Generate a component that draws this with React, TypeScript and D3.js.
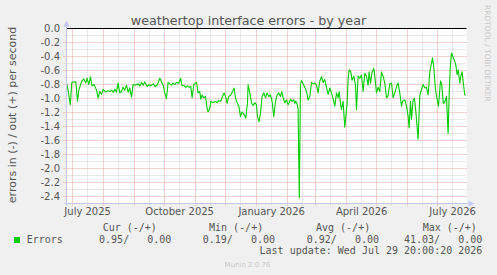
import React, { useEffect, useRef } from 'react';
import * as d3 from 'd3';

const title = 'weathertop interface errors - by year';
const yLabel = 'errors in (-) / out (+) per second';
const credit = 'RRDTOOL / TOBI OETIKER';
const footer = 'Munin 2.0.76';
const lastUpdate = 'Last update: Wed Jul 29 20:00:20 2026';

const endTime = new Date(2026, 6, 29, 20, 0, 20);
const startTime = new Date(endTime.getTime() - 400 * 864e5);

// days since startTime
const dayOffsets = [
  0.3, 1.8, 3.8, 5.3, 9.3, 11, 12.3, 15, 17.3, 19.3,
  20.6, 22.3, 24, 25.6, 27.6, 30, 31.6, 33.3, 35, 36.6,
  39.3, 41, 43.3, 45, 46.6, 48.3, 50, 51.6, 53.3, 55,
  56.6, 58.3, 60, 61.6, 63.3, 65, 66.6, 69.3, 71.6, 73.3,
  75, 76.6, 78.3, 80.6, 82.6, 84.3, 86.6, 89, 91, 93.3,
  95, 96.6, 98.3, 100, 101.6, 103.3, 105, 106.6, 108.3, 110,
  112.3, 114, 115.6, 117.3, 119.3, 121, 122.6, 124.3, 125.6, 127.3,
  130, 131.6, 133.3, 134.3, 135.6, 137.3, 139, 140.6, 141.6, 143.3,
  144.3, 146.6, 149, 150.6, 152.3, 154.3, 156, 157.6, 159, 160.6,
  162.3, 164.3, 166, 167.6, 169, 170.6, 172.3, 174, 175.6, 177.6,
  179.3, 181, 181.6, 183.3, 185, 186.6, 188.3, 190, 191, 192.6,
  194, 195.6, 197.3, 199, 200.6, 202.3, 204, 205.6, 207.3, 209,
  210.6, 212.3, 214, 215.3, 216.6, 218.3, 220, 221.6, 222.6, 224,
  225.6, 227.3, 228.3, 229.3, 230.6, 231.6, 232.8, 234, 235, 236.6,
  238.3, 240, 241.6, 243.3, 245, 246.6, 248.3, 250, 251.6, 253.3,
  255, 256.6, 258.3, 260, 261.6, 263.3, 265, 267.3, 268.3, 270,
  271.6, 272.6, 274, 275, 276.6, 278.3, 280.6, 281.6, 282.6, 284.3,
  285.6, 287.3, 289, 290, 291.6, 293.3, 295, 296.6, 298.3, 300,
  301.6, 302.6, 304, 305.6, 307.3, 308.3, 310, 311.6, 313.3, 315,
  316.6, 318.3, 320, 321.6, 323.3, 325, 326.6, 328.3, 330, 331.6,
  333.3, 335, 336, 338.3, 340, 341.6, 342.6, 344, 345, 346.6,
  348, 349.3, 351.6, 353.3, 355, 356.6, 358.3, 360, 361.6, 363.3,
  366, 367.3, 368.8, 370, 372, 374, 375.3, 376.8, 378.3, 380,
  381.6, 382.8, 383.8, 385, 386.3, 387.8, 389.3, 390.6, 391.8, 393.3,
  394.3, 395.6, 396.8, 398.3, 399.3,
];

// errors in (drawn negative)
const errorsIn = [
  -0.79, -0.90, -1.09, -0.77, -0.76, -1.04, -0.88, -0.76, -0.72, -0.78,
  -0.71, -0.80, -0.69, -0.82, -0.80, -0.88, -0.99, -0.90, -0.94, -0.87,
  -0.91, -0.89, -0.90, -0.88, -0.91, -0.87, -0.91, -0.78, -0.92, -0.90,
  -0.84, -0.88, -0.81, -0.91, -0.85, -0.98, -0.80, -0.81, -0.79, -0.82,
  -0.77, -0.81, -0.76, -0.83, -0.80, -0.82, -0.79, -0.83, -0.80, -0.71,
  -0.76, -0.81, -0.92, -1.00, -0.77, -0.79, -0.81, -0.78, -0.80, -0.77,
  -0.78, -0.71, -0.82, -0.81, -0.84, -0.82, -0.84, -0.83, -0.99, -0.80,
  -0.77, -0.92, -0.90, -1.01, -0.95, -0.99, -0.97, -1.14, -1.19, -1.14,
  -1.04, -1.06, -1.04, -1.06, -1.03, -1.04, -0.97, -0.92, -0.97, -1.07,
  -0.97, -0.95, -0.90, -0.85, -0.99, -1.06, -1.11, -1.26, -1.19, -1.23,
  -1.28, -1.06, -0.80, -0.92, -1.06, -1.10, -1.06, -1.09, -1.26, -1.33,
  -1.21, -0.97, -0.92, -0.99, -0.92, -0.97, -0.95, -1.04, -1.26, -1.04,
  -0.95, -0.92, -0.97, -0.90, -0.99, -1.06, -1.02, -1.09, -1.06, -1.01,
  -1.04, -1.02, -1.07, -1.04, -1.08, -1.16, -2.42, -0.80, -0.74, -0.79,
  -0.84, -0.90, -1.02, -0.97, -0.77, -0.79, -0.78, -0.81, -0.92, -0.75,
  -0.69, -0.77, -0.73, -0.84, -0.94, -0.85, -0.92, -1.04, -1.11, -0.92,
  -0.99, -0.90, -1.07, -1.16, -1.04, -1.41, -1.07, -0.73, -0.59, -0.62,
  -0.74, -0.68, -0.81, -1.16, -0.68, -0.71, -0.66, -0.90, -0.64, -0.68,
  -0.81, -0.62, -0.78, -0.62, -0.57, -0.68, -0.92, -0.84, -0.90, -0.62,
  -0.68, -0.78, -0.99, -0.96, -0.79, -0.78, -0.99, -0.92, -0.83, -0.78,
  -0.92, -1.11, -1.04, -1.02, -1.11, -1.25, -1.42, -1.04, -1.30, -1.02,
  -1.00, -1.18, -1.58, -0.96, -0.87, -0.80, -0.85, -0.84, -0.95, -0.62,
  -0.42, -0.55, -0.85, -0.97, -1.11, -0.75, -0.80, -1.07, -1.05, -0.97,
  -1.50, -0.88, -0.55, -0.35, -0.40, -0.45, -0.52, -0.66, -0.59, -0.78,
  -0.68, -0.62, -0.78, -0.95, -0.95,
];

const monthLabels = ['July 2025', 'October 2025', 'January 2026', 'April 2026', 'July 2026'];
const monthLabelDates = [
  new Date(2025, 6, 1), new Date(2025, 9, 1), new Date(2026, 0, 1),
  new Date(2026, 3, 1), new Date(2026, 6, 1),
];
const yTicks = [0, -0.2, -0.4, -0.6, -0.8, -1.0, -1.2, -1.4, -1.6, -1.8, -2.0, -2.2, -2.4];

const legendHeads = ['Cur (-/+)', 'Min (-/+)', 'Avg (-/+)', 'Max (-/+)'];
const legendIn = ['0.95', '0.19', '0.92', '41.03'];
const legendOut = ['0.00', '0.00', '0.00', '0.00'];

function ErrorsChart() {
  const svgRef = useRef<SVGSVGElement>(null);

  useEffect(() => {
    const width = 497;
    const height = 275;
    const plot = { left: 66.5, right: 466.5, top: 28.5, bottom: 203.5 };
    const textColor = '#555';
    const axisColor = '#c6c6f2';
    const mono = '"DejaVu Sans Mono", monospace';

    const svg = d3.select(svgRef.current);
    svg.selectAll('*').remove();
    svg.attr('width', width)
      .attr('height', height)
      .style('position', 'absolute')
      .style('left', '0px')
      .style('top', '0px')
      .style('font-family', '"DejaVu Sans", sans-serif');

    const x = d3.scaleTime().domain([startTime, endTime]).range([plot.left, plot.right]);
    const y = d3.scaleLinear().domain([-2.5, 0]).range([plot.bottom, plot.top]);
    const crisp = (v: number) => Math.floor(v) + 0.5;

    svg.append('rect').attr('width', width).attr('height', height).attr('fill', '#f0f0f0');
    svg.append('rect')
      .attr('x', plot.left).attr('y', plot.top)
      .attr('width', plot.right - plot.left).attr('height', plot.bottom - plot.top)
      .attr('fill', '#fff');

    // grid
    const grid = svg.append('g').attr('stroke-dasharray', '1,1').attr('stroke-width', 1);

    const yMinor = d3.range(1, 25, 2).map(i => -i / 10);
    grid.selectAll('.ymin').data(yMinor).enter().append('line')
      .attr('x1', plot.left - 2).attr('x2', plot.right)
      .attr('y1', d => crisp(y(d))).attr('y2', d => crisp(y(d)))
      .attr('stroke', '#d2d2d2');

    const months = d3.timeMonth.range(startTime, endTime);
    const midMonths = months.map(d => d3.timeDay.offset(d, 15))
      .concat([d3.timeDay.offset(d3.timeMonth.floor(startTime), 15)])
      .filter(d => d > startTime && d < endTime);
    grid.selectAll('.xmin').data(midMonths).enter().append('line')
      .attr('x1', d => crisp(x(d))).attr('x2', d => crisp(x(d)))
      .attr('y1', plot.top).attr('y2', plot.bottom + 2)
      .attr('stroke', '#d2d2d2');

    grid.selectAll('.ymaj').data(yTicks.slice(1)).enter().append('line')
      .attr('x1', plot.left - 3).attr('x2', plot.right)
      .attr('y1', d => crisp(y(d))).attr('y2', d => crisp(y(d)))
      .attr('stroke', '#eba3a3');

    grid.selectAll('.xmaj').data(months).enter().append('line')
      .attr('x1', d => crisp(x(d))).attr('x2', d => crisp(x(d)))
      .attr('y1', plot.top).attr('y2', plot.bottom + 3)
      .attr('stroke', '#eba3a3');

    // data
    const points = dayOffsets.map((d, i) => ({
      t: new Date(startTime.getTime() + d * 864e5),
      v: errorsIn[i],
    }));
    const line = d3.line<{ t: Date; v: number }>()
      .x(d => x(d.t))
      .y(d => y(d.v));
    svg.append('path')
      .datum(points)
      .attr('d', line)
      .attr('fill', 'none')
      .attr('stroke', '#00cc00')
      .attr('stroke-width', 1.1)
      .attr('stroke-linejoin', 'round');

    // zero line (out = 0)
    svg.append('line')
      .attr('x1', plot.left).attr('x2', plot.right)
      .attr('y1', y(0)).attr('y2', y(0))
      .attr('stroke', '#000');

    // axes
    svg.append('line')
      .attr('x1', plot.left).attr('x2', plot.left)
      .attr('y1', y(0) - 3).attr('y2', plot.bottom + 2)
      .attr('stroke', axisColor);
    svg.append('line')
      .attr('x1', plot.left - 2).attr('x2', plot.right + 2)
      .attr('y1', plot.bottom).attr('y2', plot.bottom)
      .attr('stroke', axisColor);
    svg.append('path')
      .attr('d', `M${plot.left - 3},${plot.top - 2}L${plot.left + 3},${plot.top - 2}L${plot.left},${plot.top - 8}Z`)
      .attr('fill', axisColor);
    svg.append('path')
      .attr('d', `M${plot.right + 2},${plot.bottom - 3}L${plot.right + 2},${plot.bottom + 3}L${plot.right + 8},${plot.bottom}Z`)
      .attr('fill', axisColor);

    // y tick labels
    svg.append('g').selectAll('text').data(yTicks).enter().append('text')
      .attr('x', 60)
      .attr('y', d => y(d))
      .attr('dy', '0.35em')
      .attr('text-anchor', 'end')
      .attr('font-size', 10)
      .attr('fill', textColor)
      .text(d => d.toFixed(1));

    // x labels, centred half a month after the month start
    svg.append('g').selectAll('text').data(monthLabels).enter().append('text')
      .attr('x', (d, i) => x(d3.timeDay.offset(monthLabelDates[i], 15)))
      .attr('y', 214.5)
      .attr('text-anchor', 'middle')
      .attr('font-size', 10)
      .attr('fill', textColor)
      .text(d => d);

    svg.append('text')
      .attr('x', 248.5).attr('y', 24.5)
      .attr('text-anchor', 'middle')
      .attr('font-size', 12.7)
      .attr('fill', textColor)
      .text(title);

    svg.append('text')
      .attr('transform', 'translate(15.5,115) rotate(-90)')
      .attr('text-anchor', 'middle')
      .attr('font-size', 11)
      .attr('fill', textColor)
      .text(yLabel);

    svg.append('text')
      .attr('transform', 'translate(485,5) rotate(90)')
      .attr('font-size', 7.5)
      .attr('fill', '#c8c8c8')
      .text(credit);

    // legend
    const legend = svg.append('g')
      .attr('font-family', mono)
      .attr('font-size', 10)
      .attr('fill', textColor)
      .style('white-space', 'pre');

    const headX = [102.7, 209, 316, 422.7];
    const valEnd = [171.3, 275, 379, 482.3];

    legend.selectAll('.head').data(legendHeads).enter().append('text')
      .attr('x', (d, i) => headX[i]).attr('y', 230.5)
      .text(d => d);

    legend.append('rect')
      .attr('x', 14).attr('y', 237).attr('width', 6).attr('height', 6)
      .attr('fill', '#00cc00');
    legend.append('text').attr('x', 26.7).attr('y', 243).text('Errors');

    legend.selectAll('.val').data(legendIn).enter().append('text')
      .attr('x', (d, i) => valEnd[i]).attr('y', 243)
      .attr('text-anchor', 'end')
      .attr('xml:space', 'preserve')
      .text((d, i) => `${d}/   ${legendOut[i]}`);

    legend.append('text')
      .attr('x', 482.3).attr('y', 254)
      .attr('text-anchor', 'end')
      .text(lastUpdate);

    svg.append('text')
      .attr('x', 247.5).attr('y', 266.5)
      .attr('text-anchor', 'middle')
      .attr('font-size', 7)
      .attr('fill', '#c8c8c8')
      .text(footer);
  }, []);

  return <svg ref={svgRef}></svg>;
}

export default function App() {
  return <ErrorsChart />;
}
